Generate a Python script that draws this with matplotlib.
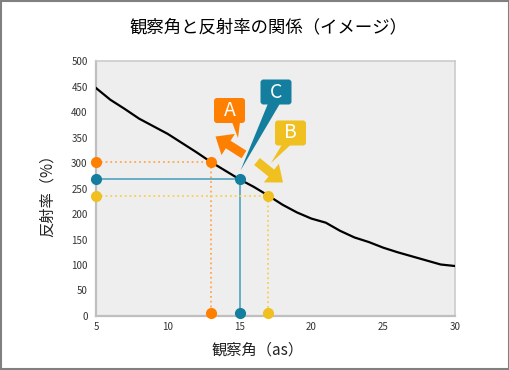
import matplotlib
matplotlib.use("Agg")
import matplotlib.pyplot as plt
from matplotlib.patches import FancyBboxPatch, Polygon, FancyArrow, Rectangle

plt.rcParams['font.family'] = ['Noto Sans CJK JP', 'DejaVu Sans']

# data
angle = list(range(5, 31))
reflect = [447, 424, 406, 387, 372, 357, 339, 321, 302, 285, 268, 253, 236,
           218, 203, 191, 183, 167, 154, 145, 134, 125, 117, 109, 101, 98]

labels = ['A', 'C', 'B']
pick_x = [13, 15, 17]
pick_y = [302, 268, 236]
pick_colors = ['#FF8000', '#137E9E', '#F0C020']
guide_colors = ['#FFA850', '#5BA9C2', '#F5D055']
guide_styles = [':', '-', ':']

fig = plt.figure(figsize=(5.1, 3.7), dpi=100)
ax = fig.add_axes([96 / 510, 54 / 370, 359 / 510, 255 / 370])
ax.set_facecolor('#EEEEEE')

ax.plot(angle, reflect, color='black', lw=1.6, zorder=3)

for px, py, c, gc, ls in zip(pick_x, pick_y, pick_colors, guide_colors, guide_styles):
    ax.plot([5, px], [py, py], color=gc, lw=1.3, ls=ls, zorder=2)
    ax.plot([px, px], [py, 6], color=gc, lw=1.3, ls=ls, zorder=2)
    ax.plot([5, px, px], [py, py, 6], ls='none', marker='o', ms=7,
            color=c, clip_on=False, zorder=5)

ax.set_xlim(5, 30)
ax.set_ylim(0, 500)
ax.set_xticks(range(5, 31, 5))
ax.set_yticks(range(0, 501, 50))
ax.tick_params(length=0, labelsize=7, colors='#333333')
ax.tick_params(axis='y', pad=6)
ax.tick_params(axis='x', pad=4)
for s in ['left', 'bottom']:
    ax.spines[s].set_color('#BFBFBF')
    ax.spines[s].set_linewidth(1.6)
for s in ['top', 'right']:
    ax.spines[s].set_color('#CCCCCC')
    ax.spines[s].set_linewidth(1.2)

fig.text(268 / 510, 1 - 27 / 370, '観察角と反射率の関係（イメージ）', fontsize=12.5,
         ha='center', va='center', color='black')
fig.text(258 / 510, 1 - 350 / 370, '観察角（as）', fontsize=11,
         ha='center', va='center', color='#222222')
fig.text(47 / 510, 1 - 192 / 370, '反射率（%）', fontsize=11, rotation=90,
         ha='center', va='center', color='#222222')

# overlay in pixel coordinates for callouts
ov = fig.add_axes([0, 0, 1, 1], zorder=10)
ov.set_xlim(0, 510)
ov.set_ylim(370, 0)
ov.axis('off')
ov.add_patch(Rectangle((1, 1), 508, 368, fill=False, ec='#808080', lw=1.5))


def to_px(x, y):
    dx, dy = ax.transData.transform((x, y))
    return dx, 370 - dy


def callout(cx, cy, text, color, base, tip):
    w, h = 31, 25
    ov.add_patch(FancyBboxPatch((cx - w / 2, cy - h / 2), w, h,
                                boxstyle='round,pad=0,rounding_size=3',
                                fc=color, ec='none'))
    ov.add_patch(Polygon([(base[0], cy + h / 2 - 1), (base[1], cy + h / 2 - 1), tip],
                         closed=True, fc=color, ec='none'))
    ov.text(cx, cy, text, color='white', fontsize=14, ha='center', va='center')


tx, ty = to_px(pick_x[1], pick_y[1])
callout(229.5, 110.5, labels[0], pick_colors[0], (232, 240), (238, 138))
callout(276, 92, labels[1], pick_colors[1], (268, 280), (tx + 1, ty - 9))
callout(290.5, 133, labels[2], pick_colors[2], (282, 291), (271, 163))

ov.add_patch(FancyArrow(244, 154.5, -28.5, -18, width=9, head_width=25,
                        head_length=15, length_includes_head=True,
                        fc=pick_colors[0], ec='none'))
ov.add_patch(FancyArrow(257, 161.5, 26, 21, width=9, head_width=24,
                        head_length=15, length_includes_head=True,
                        fc=pick_colors[2], ec='none'))

fig.savefig('out.png', dpi=100)
